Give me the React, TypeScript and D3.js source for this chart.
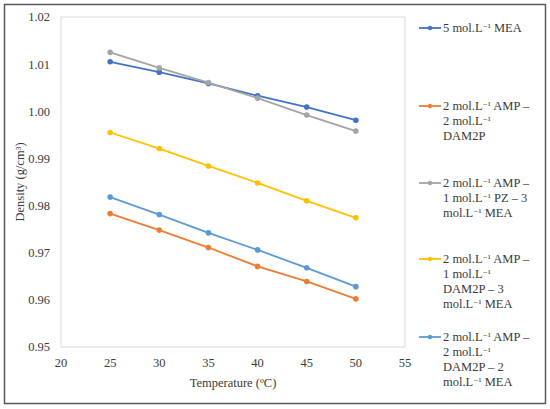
import * as d3 from 'd3';

const temps = [25, 30, 35, 40, 45, 50];
const mea5 = [1.0105, 1.0083, 1.0059, 1.0033, 1.0009, 0.9981];
const ampDam2p = [0.9783, 0.9748, 0.9711, 0.9671, 0.9639, 0.9602];
const ampPzMea = [1.0125, 1.0092, 1.0061, 1.0028, 0.9992, 0.9958];
const ampDam2pMea3 = [0.9955, 0.9921, 0.9884, 0.9848, 0.981, 0.9774];
const ampDam2pMea2 = [0.9818, 0.9781, 0.9742, 0.9706, 0.9668, 0.9628];

const xTicks = [20, 25, 30, 35, 40, 45, 50, 55];
const yTicks = [0.95, 0.96, 0.97, 0.98, 0.99, 1.0, 1.01, 1.02];

const series = [
  { values: mea5, color: '#4472C4', label: ['5 mol.L⁻¹ MEA'] },
  { values: ampDam2p, color: '#ED7D31', label: ['2 mol.L⁻¹ AMP –', '2 mol.L⁻¹', 'DAM2P'] },
  { values: ampPzMea, color: '#A5A5A5', label: ['2 mol.L⁻¹ AMP –', '1 mol.L⁻¹ PZ – 3', 'mol.L⁻¹ MEA'] },
  { values: ampDam2pMea3, color: '#FFC000', label: ['2 mol.L⁻¹ AMP –', '1 mol.L⁻¹', 'DAM2P – 3', 'mol.L⁻¹ MEA'] },
  { values: ampDam2pMea2, color: '#5B9BD5', label: ['2 mol.L⁻¹ AMP –', '2 mol.L⁻¹', 'DAM2P – 2', 'mol.L⁻¹ MEA'] },
];

const legendTops = [28, 106, 183, 259, 337];

const W = 550;
const H = 409;
const plot = { left: 61, top: 17, right: 405, bottom: 347 };
const font = '"Liberation Serif", "DejaVu Serif", serif';
const ink = '#3a3a3a';

// shrink the "⁻¹" superscript so it sits like the original
function withSup(s: string) {
  const parts = s.split('⁻¹');
  const out: any[] = [];
  parts.forEach((p, i) => {
    out.push(<tspan key={'p' + i}>{p}</tspan>);
    if (i < parts.length - 1) {
      out.push(
        <tspan key={'s' + i} fontSize={10} baselineShift="1.5">
          ⁻¹
        </tspan>
      );
    }
  });
  return out;
}

export default function App() {
  const x = d3.scaleLinear().domain([20, 55]).range([plot.left, plot.right]);
  const y = d3.scaleLinear().domain([0.95, 1.02]).range([plot.bottom, plot.top]);
  const line = d3
    .line<number>()
    .x((_, i) => x(temps[i]))
    .y((d) => y(d));

  return (
    <svg
      width={W}
      height={H}
      style={{ position: 'absolute', left: 0, top: 0, background: '#fff' }}
      fontFamily={font}
    >
      <rect x={4.5} y={4.5} width={541} height={399} fill="#fff" stroke="#595959" strokeWidth={1.5} />
      <rect
        x={plot.left}
        y={plot.top}
        width={plot.right - plot.left}
        height={plot.bottom - plot.top}
        fill="none"
        stroke="#d9d9d9"
        strokeWidth={1}
      />

      {/* y tick labels */}
      {yTicks.map((t) => (
        <text key={t} x={plot.left - 11} y={y(t)} dy="0.35em" textAnchor="end" fontSize={12.5} fill={ink}>
          {t.toFixed(2)}
        </text>
      ))}
      {/* x tick labels */}
      {xTicks.map((t) => (
        <text key={t} x={x(t)} y={363} dy="0.35em" textAnchor="middle" fontSize={12.5} fill={ink}>
          {t}
        </text>
      ))}

      <text
        transform={`translate(20,${(plot.top + plot.bottom) / 2}) rotate(-90)`}
        textAnchor="middle"
        dy="0.35em"
        fontSize={12.5}
        fill={ink}
      >
        Density (g/cm³)
      </text>
      <text x={(plot.left + plot.right) / 2} y={383} dy="0.35em" textAnchor="middle" fontSize={12.5} fill={ink}>
        Temperature (ºC)
      </text>

      {series.map((s) => (
        <g key={s.color}>
          <path d={line(s.values) || ''} fill="none" stroke={s.color} strokeWidth={1.8} />
          {s.values.map((v, i) => (
            <circle key={i} cx={x(temps[i])} cy={y(v)} r={2.8} fill={s.color} />
          ))}
        </g>
      ))}

      {/* legend */}
      {series.map((s, k) => (
        <g key={'lg' + k}>
          <line x1={419} x2={441} y1={legendTops[k]} y2={legendTops[k]} stroke={s.color} strokeWidth={1.8} />
          <circle cx={430} cy={legendTops[k]} r={2.2} fill={s.color} />
          {s.label.map((l, j) => (
            <text key={j} x={443} y={legendTops[k] + j * 15} dy="0.35em" fontSize={12.5} fill={ink}>
              {withSup(l)}
            </text>
          ))}
        </g>
      ))}
    </svg>
  );
}
